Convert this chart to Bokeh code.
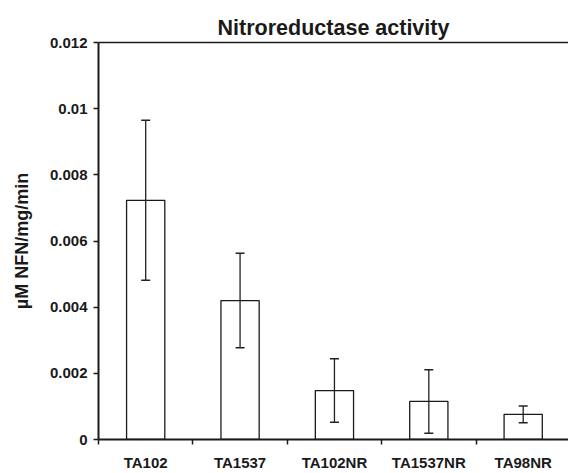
from bokeh.plotting import figure
from bokeh.models import (Range1d, FixedTicker, LinearAxis, Whisker, ColumnDataSource,
                          TeeHead, NumeralTickFormatter)
from bokeh.embed import file_html
from bokeh.resources import INLINE

strains = ["TA102", "TA1537", "TA102NR", "TA1537NR", "TA98NR"]
activity = [0.00723, 0.00420, 0.00148, 0.00115, 0.00076]
sd = [0.00242, 0.00143, 0.00096, 0.00096, 0.00025]
y_ticks = [0, 0.002, 0.004, 0.006, 0.008, 0.01, 0.012]

FONT = "Liberation Sans"
x = [i + 0.5 for i in range(len(strains))]
lower = [a - s for a, s in zip(activity, sd)]
upper = [a + s for a, s in zip(activity, sd)]
src = ColumnDataSource(dict(x=x, strain=strains, activity=activity, lower=lower, upper=upper))

p = figure(width=568, height=473, output_backend="svg", toolbar_location=None,
           x_range=Range1d(0, 4.98), y_range=Range1d(0, y_ticks[-1]),
           x_axis_type=None, y_axis_type=None,
           min_border_left=98, min_border_right=0, min_border_top=42, min_border_bottom=34)
p.outline_line_color = None
p.background_fill_color = "white"

p.title.text = "Nitroreductase activity"
p.title.text_font = FONT
p.title.text_font_size = "21.5px"
p.title.text_font_style = "bold"
p.title.text_color = "#1a1a1a"
p.title.align = "center"
p.title.standoff = 5

# left axis
yaxis = LinearAxis(ticker=FixedTicker(ticks=y_ticks),
                   formatter=NumeralTickFormatter(format="0.[000]"),
                   axis_label="µM NFN/mg/min")
yaxis.major_tick_out = 5
yaxis.major_tick_in = 0
yaxis.minor_tick_out = 0
yaxis.minor_tick_in = 0
yaxis.axis_line_width = 2
yaxis.axis_line_color = "#1a1a1a"
yaxis.major_tick_line_color = "#1a1a1a"
yaxis.major_tick_line_width = 1.5
yaxis.major_label_text_font = FONT
yaxis.major_label_text_font_size = "15px"
yaxis.major_label_text_font_style = "bold"
yaxis.major_label_text_color = "#1a1a1a"
yaxis.major_label_standoff = 6
yaxis.axis_label_text_font = FONT
yaxis.axis_label_text_font_size = "18px"
yaxis.axis_label_text_font_style = "bold"
yaxis.axis_label_text_color = "#1a1a1a"
yaxis.axis_label_standoff = 15
p.add_layout(yaxis, "left")

# bottom axis: labels at category centres, tick marks at category boundaries
xaxis = LinearAxis(ticker=FixedTicker(ticks=x, minor_ticks=list(range(len(strains) + 1))),
                   major_label_overrides=dict(zip(x, strains)))
xaxis.major_tick_out = 0
xaxis.major_tick_in = 0
xaxis.minor_tick_out = 5
xaxis.minor_tick_in = 0
xaxis.minor_tick_line_color = "#1a1a1a"
xaxis.minor_tick_line_width = 1.5
xaxis.axis_line_width = 2
xaxis.axis_line_color = "#1a1a1a"
xaxis.major_label_text_font = FONT
xaxis.major_label_text_font_size = "15px"
xaxis.major_label_text_font_style = "bold"
xaxis.major_label_text_color = "#1a1a1a"
xaxis.major_label_standoff = 9
p.add_layout(xaxis, "below")

# top frame line
taxis = LinearAxis(ticker=FixedTicker(ticks=[]))
taxis.major_tick_out = 0
taxis.major_tick_in = 0
taxis.minor_tick_out = 0
taxis.minor_tick_in = 0
taxis.major_label_text_font_size = "0px"
taxis.major_label_standoff = 0
taxis.axis_line_width = 1.5
taxis.axis_line_color = "#1a1a1a"
p.add_layout(taxis, "above")

p.vbar(x="x", top="activity", bottom=0, width=0.405, source=src,
       fill_color="white", line_color="#1a1a1a", line_width=1.3)

w = Whisker(base="x", lower="lower", upper="upper", source=src,
            line_color="#222222", line_width=1.3,
            upper_head=TeeHead(size=9, line_color="#222222", line_width=1.5),
            lower_head=TeeHead(size=9, line_color="#222222", line_width=1.5))
w.level = "overlay"
p.add_layout(w)

open("out.html", "w").write(file_html(p, INLINE))
